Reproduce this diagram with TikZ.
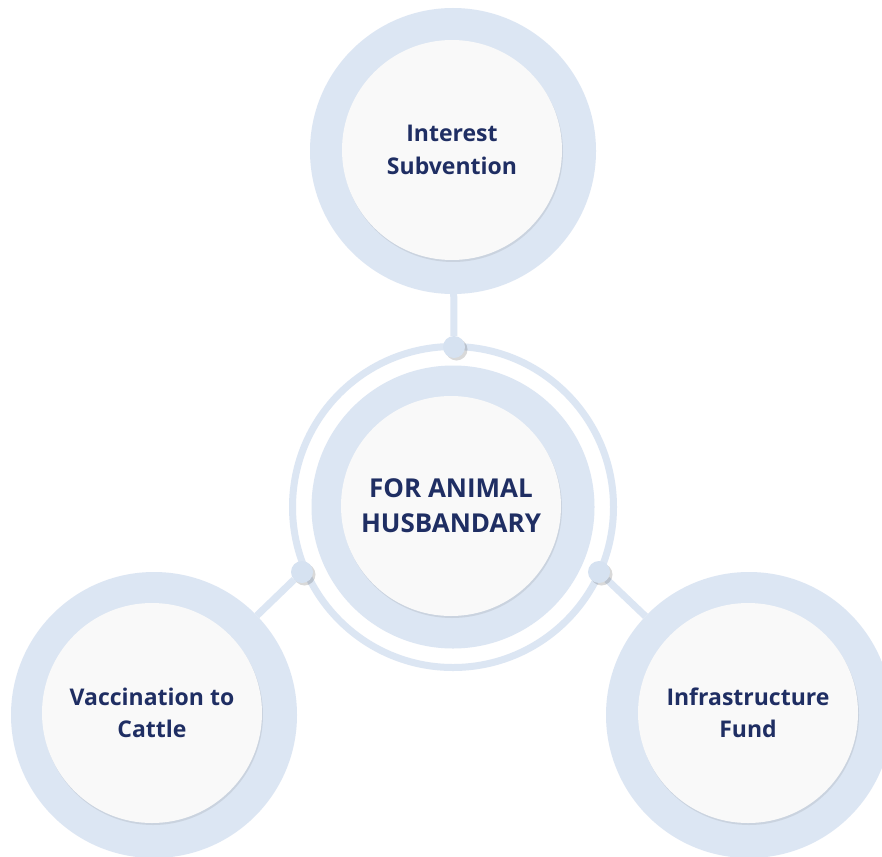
\documentclass[tikz,border=0pt]{standalone}
\usepackage{fontspec}
\setmainfont{Open Sans}
\usetikzlibrary{shadows,backgrounds}
\definecolor{ringblue}{HTML}{DCE6F3}
\definecolor{dotblue}{HTML}{D6E2F1}
\definecolor{navy}{HTML}{1F2E63}
\definecolor{discwhite}{HTML}{F9F9F9}
\begin{document}
\begin{tikzpicture}[x=1pt,y=-1pt,
  outerdisc/.style={circle,fill=ringblue,minimum size=286pt,inner sep=0pt,outer sep=0pt},
  innerdisc/.style={circle,fill=discwhite,minimum size=220pt,inner sep=0pt,outer sep=0pt,
    drop shadow={shadow xshift=1pt,shadow yshift=-2pt,fill=black,opacity=0.08},
    text=navy,align=center,font=\bfseries\fontsize{23}{32.5}\selectfont},
  centertext/.style={font=\bfseries\fontsize{26}{35}\selectfont},
  thinring/.style={circle,draw=ringblue,line width=7pt,minimum size=321pt,inner sep=0pt,outer sep=0pt},
  dotnode/.style={circle,fill=dotblue,minimum size=22pt,inner sep=0pt,outer sep=0pt,
    drop shadow={shadow xshift=2.5pt,shadow yshift=-2.5pt,fill=black,opacity=0.15}},
  link/.style={draw=ringblue,line width=7pt}
]
\useasboundingbox (0,0) rectangle (882,856);

% outer blue discs
\node[outerdisc] (topO) at (453,151) {};
\node[outerdisc,minimum size=283pt] (centerO) at (453,507) {};
\node[outerdisc] (leftO) at (154,715) {};
\node[outerdisc] (rightO) at (749,715) {};

% thin ring around center
\node[thinring] (ring) at (453,507) {};

% connector dots
\node[dotnode] (dotT) at (454,347) {};
\node[dotnode] (dotL) at (302,572) {};
\node[dotnode] (dotR) at (599,572) {};

% inner white discs with text
\node[innerdisc] (top) at (452,150) {Interest\\Subvention};
\node[innerdisc,centertext] (center) at (451,506) {FOR ANIMAL\\HUSBANDARY};
\node[innerdisc] (left) at (152,713) {Vaccination to\\Cattle};
\node[innerdisc] (right) at (748,713) {Infrastructure\\Fund};

% connectors behind everything
\begin{scope}[on background layer]
\fill[white] (0,0) rectangle (882,856);
\draw[link] (dotT) -- (topO);
\draw[link] (dotL) -- (leftO);
\draw[link] (dotR) -- (rightO);
\end{scope}
\end{tikzpicture}
\end{document}
